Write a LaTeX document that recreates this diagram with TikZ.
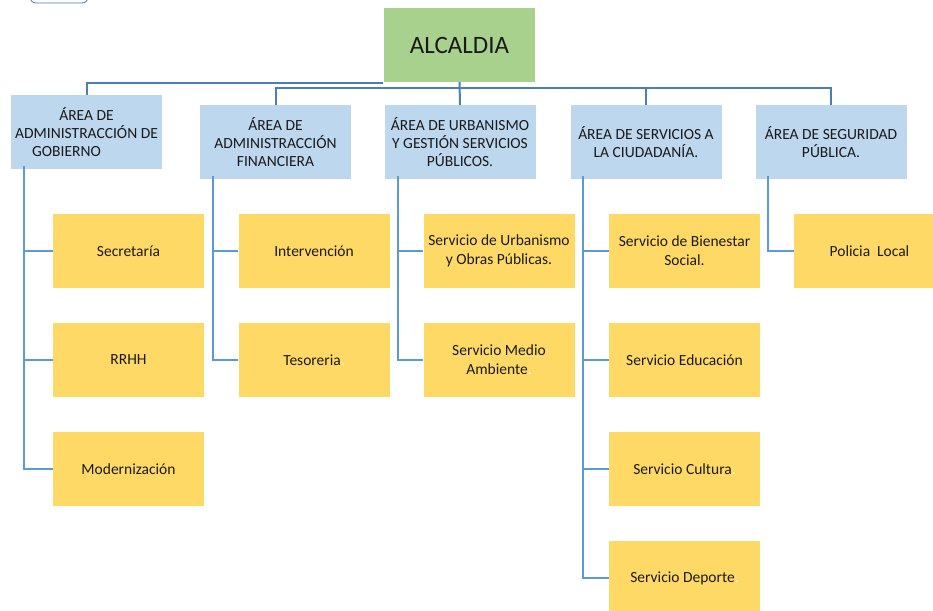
\documentclass[tikz,border=0pt]{standalone}
\usepackage{fontspec}
\setmainfont{Carlito}
\definecolor{areablue}{HTML}{BDD7EE}
\definecolor{alcgreen}{HTML}{A9D18E}
\definecolor{servyellow}{HTML}{FFD966}
\definecolor{topline}{HTML}{4A7EBB}
\definecolor{subline}{HTML}{5B9BD5}
\definecolor{txt}{HTML}{1A1A1A}
\begin{document}
\begin{tikzpicture}[x=1pt,y=-1pt,
  box/.style={rectangle, minimum width=151pt, minimum height=74pt, inner sep=2pt, align=center, text=txt},
  areabox/.style={box, fill=areablue, font=\fontsize{15.5}{18}\selectfont},
  servbox/.style={box, fill=servyellow, font=\fontsize{15.5}{19}\selectfont},
  alcbox/.style={box, fill=alcgreen, font=\fontsize{25}{28}\selectfont},
  topconn/.style={draw=topline, line width=2pt},
  subconn/.style={draw=subline, line width=2.2pt}]
\useasboundingbox (0,0) rectangle (933,610);
\clip (0,0) rectangle (933,610);
% partial shape at top left
\draw[topline, line width=0.8pt, fill=white, rounded corners=6pt] (30,-20) rectangle (88,3);
% nodes
\node[alcbox] (alc) at (459.5,45) {ALCALDIA};
\node[areabox] (a1) at (86.5,132) {ÁREA DE\\ADMINISTRACCIÓN DE\\GOBIERNO\hspace*{40pt}};
\node[areabox] (a2) at (275.5,142) {ÁREA DE\\ADMINISTRACCIÓN\\FINANCIERA};
\node[areabox] (a3) at (460,142) {ÁREA DE URBANISMO\\Y GESTIÓN SERVICIOS\\PÚBLICOS.};
\node[areabox] (a4) at (646,142) {ÁREA DE SERVICIOS A\\LA CIUDADANÍA.};
\node[areabox] (a5) at (831,142) {ÁREA DE SEGURIDAD\\PÚBLICA.};
\node[servbox] (s11) at (128.5,251) {Secretaría};
\node[servbox] (s12) at (128.5,360) {RRHH};
\node[servbox] (s13) at (128.5,469) {Modernización};
\node[servbox] (s21) at (314,251) {Intervención};
\node[servbox] (s22) at (314,360) {Tesoreria\textcolor{white}{.}};
\node[servbox] (s31) at (499,251) {Servicio de Urbanismo\\y Obras Públicas.};
\node[servbox] (s32) at (499,360) {Servicio Medio\\Ambiente\textcolor{white}{.}};
\node[servbox] (s41) at (684.5,251) {Servicio de Bienestar\\Social.};
\node[servbox] (s42) at (684.5,360) {Servicio Educación};
\node[servbox] (s43) at (684.5,469) {Servicio Cultura\textcolor{white}{.}};
\node[servbox] (s44) at (684.5,578) {Servicio Deporte\textcolor{white}{.}};
\node[servbox] (s51) at (869.5,251) {Policia\ \ Local};
% top connectors
\coordinate (j1) at (383,83);
\coordinate (bus) at (0,88);
\draw[topconn] (a1.north) |- (j1);
\draw[topconn] (a2.north) -- (a2.north |- bus) -- (a5.north |- bus) -- (a5.north);
\draw[topconn] (alc.south) -- (a3.north);
\draw[topconn] (a4.north) -- (a4.north |- bus);
% sub connectors
\draw[subconn] ([xshift=13pt,yshift=3pt]a1.south west) |- (s13.west);
\draw[subconn] ([xshift=13pt]a1.south west |- s11.west) -- (s11.west);
\draw[subconn] ([xshift=13pt]a1.south west |- s12.west) -- (s12.west);
\draw[subconn] ([xshift=13pt,yshift=3pt]a2.south west) |- (s22.west);
\draw[subconn] ([xshift=13pt]a2.south west |- s21.west) -- (s21.west);
\draw[subconn] ([xshift=14pt,yshift=3pt]a3.south west) |- (s32.west);
\draw[subconn] ([xshift=14pt]a3.south west |- s31.west) -- (s31.west);
\draw[subconn] ([xshift=13pt,yshift=3pt]a4.south west) |- (s44.west);
\draw[subconn] ([xshift=13pt]a4.south west |- s41.west) -- (s41.west);
\draw[subconn] ([xshift=13pt]a4.south west |- s42.west) -- (s42.west);
\draw[subconn] ([xshift=13pt]a4.south west |- s43.west) -- (s43.west);
\draw[subconn] ([xshift=13pt,yshift=3pt]a5.south west) |- (s51.west);
\end{tikzpicture}
\end{document}
